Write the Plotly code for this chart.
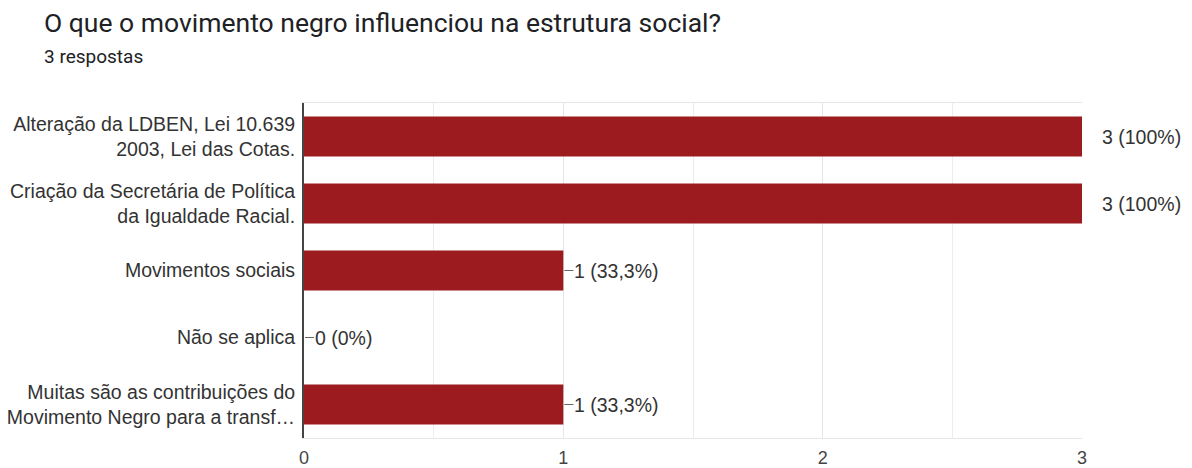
import plotly.graph_objects as go

title = "O que o movimento negro influenciou na estrutura social?"
subtitle = "3 respostas"
categories = [
    "Alteração da LDBEN, Lei 10.639<br>2003, Lei das Cotas.",
    "Criação da Secretária de Política<br>da Igualdade Racial.",
    "Movimentos sociais",
    "Não se aplica",
    "Muitas são as contribuições do<br>Movimento Negro para a transf…",
]
counts = [3, 3, 1, 0, 1]
percent_labels = ["100%", "100%", "33,3%", "0%", "33,3%"]
x_ticks = [0, 1, 2, 3]

BAR = "#9b1b1f"
TXT = "#333333"
FONT = "Liberation Sans, Arial, sans-serif"
FS = 19.5

fig = go.Figure()
fig.add_trace(go.Bar(
    x=counts, y=categories, orientation="h",
    marker=dict(color=BAR, line=dict(width=0)),
    width=0.6, hoverinfo="skip",
))

max_v = max(counts)
annotations = []
shapes = []
for c, v, p in zip(categories, counts, percent_labels):
    if v >= max_v:
        annotations.append(dict(x=v, y=c, xref="x", yref="y", text=f"{v} ({p})",
                                showarrow=False, xanchor="left", xshift=18,
                                font=dict(size=FS, color=TXT, family=FONT)))
    else:
        shapes.append(dict(type="line", xref="x", yref="y", xsizemode="pixel",
                           xanchor=v, x0=1, x1=10, y0=c, y1=c,
                           line=dict(color="#666666", width=1)))
        annotations.append(dict(x=v, y=c, xref="x", yref="y", text=f"{v} ({p})",
                                showarrow=False, xanchor="left", xshift=9,
                                font=dict(size=FS, color=TXT, family=FONT)))

L, R, T, B = 304, 110, 103, 30
pw = 1192 - L - R
ph = 468 - T - B
annotations.append(dict(x=(42 - L) / pw, y=1 + (103 - 22) / ph, xref="paper", yref="paper",
                        text=title, showarrow=False, xanchor="left", yanchor="middle",
                        font=dict(size=26.5, color="#202124", family="Roboto, sans-serif")))
annotations.append(dict(x=(42 - L) / pw, y=1 + (103 - 57) / ph, xref="paper", yref="paper",
                        text=subtitle, showarrow=False, xanchor="left", yanchor="middle",
                        font=dict(size=19, color="#202124", family="Roboto, sans-serif")))

fig.update_layout(
    width=1192, height=468,
    margin=dict(l=L, r=R, t=T, b=B, pad=0, autoexpand=False),
    paper_bgcolor="white", plot_bgcolor="white",
    showlegend=False,
    bargap=0.4,
    annotations=annotations,
    shapes=shapes,
    font=dict(family=FONT, size=FS, color=TXT),
)
fig.update_xaxes(
    range=[0, 3], tickvals=x_ticks, ticktext=[str(t) for t in x_ticks],
    showgrid=True, gridcolor="#e6e6e6", gridwidth=1,
    minor=dict(dtick=0.5, tick0=0, showgrid=True, gridcolor="#ececec"),
    showline=True, mirror=True, linecolor="#e6e6e6", linewidth=1,
    zeroline=False, ticks="", ticklabelstandoff=3, automargin=False,
    tickfont=dict(size=18, color="#444444", family=FONT),
    fixedrange=True,
)
fig.update_yaxes(
    autorange="reversed", showgrid=False, zeroline=False,
    showline=True, linecolor="#444444", linewidth=2,
    ticks="", ticklabelstandoff=3, automargin=False,
    tickfont=dict(size=FS, color=TXT, family=FONT),
    fixedrange=True,
)

fig.write_html("out.html")
